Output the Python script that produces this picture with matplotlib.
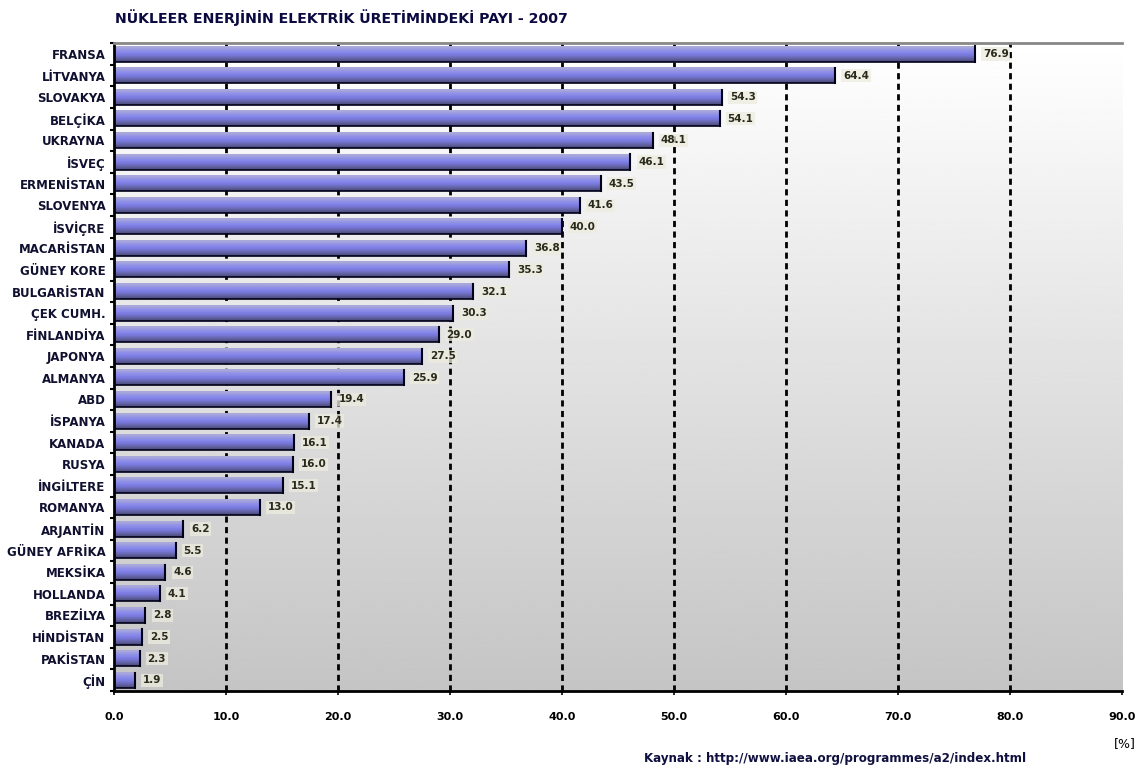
import matplotlib
matplotlib.use("Agg")
import matplotlib.pyplot as plt
import numpy as np

# data: nuclear share of electricity production, 2007 (%)
countries = ["FRANSA", "LİTVANYA", "SLOVAKYA", "BELÇİKA", "UKRAYNA", "İSVEÇ",
             "ERMENİSTAN", "SLOVENYA", "İSVİÇRE", "MACARİSTAN", "GÜNEY KORE",
             "BULGARİSTAN", "ÇEK CUMH.", "FİNLANDİYA", "JAPONYA", "ALMANYA",
             "ABD", "İSPANYA", "KANADA", "RUSYA", "İNGİLTERE", "ROMANYA",
             "ARJANTİN", "GÜNEY AFRİKA", "MEKSİKA", "HOLLANDA", "BREZİLYA",
             "HİNDİSTAN", "PAKİSTAN", "ÇİN"]
shares = [76.9, 64.4, 54.3, 54.1, 48.1, 46.1, 43.5, 41.6, 40.0, 36.8, 35.3,
          32.1, 30.3, 29.0, 27.5, 25.9, 19.4, 17.4, 16.1, 16.0, 15.1, 13.0,
          6.2, 5.5, 4.6, 4.1, 2.8, 2.5, 2.3, 1.9]
xticks = [0, 10, 20, 30, 40, 50, 60, 70, 80, 90]
xtick_labels = ["%.1f" % t for t in xticks]

title = "NÜKLEER ENERJİNİN ELEKTRİK ÜRETİMİNDEKİ PAYI - 2007"
source = "Kaynak : http://www.iaea.org/programmes/a2/index.html"

fig = plt.figure(figsize=(11.39, 7.72), dpi=100)
ax = fig.add_axes([0.100, 0.105, 0.885, 0.839])

n = len(countries)
ypos = np.arange(n)
bar_h = 0.7

# background gradient white -> grey
bg = np.linspace(1.0, 0.77, 256).reshape(-1, 1)
ax.imshow(bg, cmap="gray", vmin=0, vmax=1, extent=[0, 1, 0, 1],
          transform=ax.transAxes, aspect="auto", zorder=0)

# vertical dashed grid lines
for t in xticks[1:-1]:
    ax.axvline(t, color="black", lw=2, ls=(0, (2.2, 1.6)), zorder=1)

# bar gradient (top light -> bottom dark)
grad_cols = np.array([
    [0.66, 0.66, 0.86],
    [0.58, 0.58, 0.90],
    [0.52, 0.52, 0.92],
    [0.47, 0.47, 0.85],
    [0.40, 0.40, 0.68],
    [0.32, 0.32, 0.52],
])
grad = grad_cols.reshape(-1, 1, 3)

for y, v in zip(ypos, shares):
    ax.imshow(grad, extent=[0, v, y + bar_h / 2, y - bar_h / 2],
              aspect="auto", interpolation="bilinear", zorder=2)
    ax.plot([v, v], [y - bar_h / 2, y + bar_h / 2], color="#000018", lw=1.5, zorder=3)
    ax.plot([0, v], [y + bar_h / 2, y + bar_h / 2], color="#000018", lw=1.2, zorder=3)
    ax.text(v + 0.7, y, "%.1f" % v, va="center", ha="left", fontsize=7.5,
            fontweight="bold", color="#2a2a1a", zorder=4,
            bbox=dict(boxstyle="square,pad=0.15", fc="#ecece0", ec="none", alpha=0.75))

ax.set_xlim(0, 90)
ax.set_ylim(n - 0.5, -0.5)

ax.set_yticks(ypos)
ax.set_yticklabels(countries, fontsize=8.5, fontweight="bold", color="#101030")
ax.tick_params(axis="y", length=0, pad=6)
ax.set_yticks(np.arange(-0.5, n, 1), minor=True)
ax.tick_params(axis="y", which="minor", length=3, width=1.5, color="black")

ax.set_xticks(xticks)
ax.set_xticklabels(xtick_labels, fontsize=8, fontweight="bold")
ax.tick_params(axis="x", length=3, width=1.2, pad=12)

for side in ["left", "bottom"]:
    ax.spines[side].set_linewidth(2)
    ax.spines[side].set_color("black")
ax.spines["top"].set_linewidth(2)
ax.spines["top"].set_color("#888888")
ax.spines["right"].set_visible(False)

fig.text(0.101, 0.977, title, fontsize=10.2, fontweight="bold", color="#0a0a40",
         ha="left", va="center")
fig.text(0.565, 0.017, source, fontsize=8.6, fontweight="bold", color="#101040",
         ha="left", va="center")
fig.text(0.997, 0.037, "[%]", fontsize=9, ha="right", va="center")

fig.savefig("out.png", dpi=100)
